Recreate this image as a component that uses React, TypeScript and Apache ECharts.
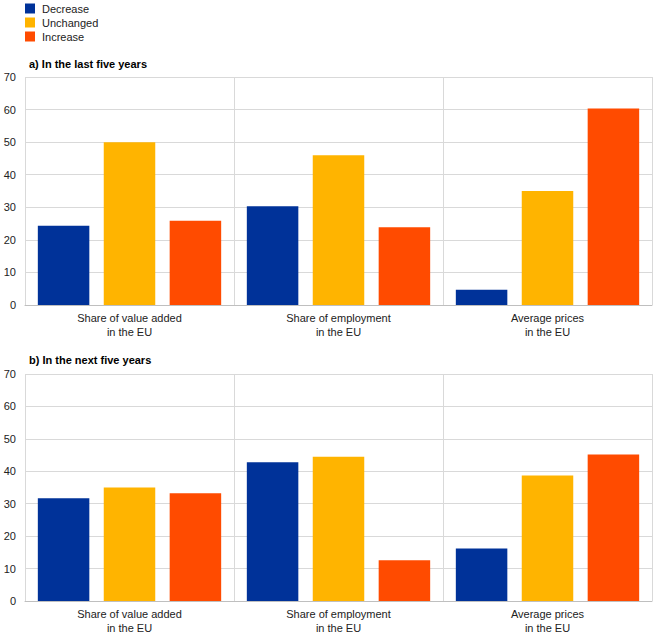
import React, { useEffect, useRef } from "react";
import * as echarts from "echarts";

const categories = ["Share of value added\nin the EU", "Share of employment\nin the EU", "Average prices\nin the EU"];
const seriesNames = ["Decrease", "Unchanged", "Increase"];
const colors = ["#003299", "#FFB400", "#FF4B00"];
const panelTitles = ["a) In the last five years", "b) In the next five years"];

const lastDecrease = [24.3, 30.3, 4.7];
const lastUnchanged = [50.0, 46.0, 35.0];
const lastIncrease = [25.9, 23.9, 60.3];

const nextDecrease = [31.7, 42.8, 16.2];
const nextUnchanged = [35.0, 44.5, 38.7];
const nextIncrease = [33.2, 12.6, 45.2];

const yTicks = { min: 0, max: 70, interval: 10 };

const FONT = "'Liberation Sans', Arial, sans-serif";

export default function App() {
  const ref = useRef<HTMLDivElement>(null);
  useEffect(() => {
    if (!ref.current) return;
    const chart = echarts.init(ref.current, null, { renderer: "svg" });
    const panels = [
      [lastDecrease, lastUnchanged, lastIncrease],
      [nextDecrease, nextUnchanged, nextIncrease],
    ];
    const grids = [
      { left: 25, top: 77, width: 627, height: 228 },
      { left: 25, top: 374, width: 627, height: 227 },
    ];
    const xAxes = grids.map((_, i) => ({
      type: "category",
      gridIndex: i,
      data: categories,
      axisTick: { show: false },
      axisLine: { lineStyle: { color: "#bfbfbf", width: 1 } },
      splitLine: { show: true, lineStyle: { color: "#d9d9d9", width: 1 } },
      axisLabel: { color: "#222", fontSize: 11, fontFamily: FONT, margin: 6, lineHeight: 14 },
    }));
    const yAxes = grids.map((_, i) => ({
      type: "value",
      gridIndex: i,
      min: yTicks.min,
      max: yTicks.max,
      interval: yTicks.interval,
      axisLine: { show: false },
      axisTick: { show: false },
      splitLine: { lineStyle: { color: "#d9d9d9", width: 1 } },
      axisLabel: { color: "#222", fontSize: 11, fontFamily: FONT, margin: 9 },
    }));
    const series: any[] = [];
    panels.forEach((vals, pi) => {
      vals.forEach((data, si) => {
        series.push({
          type: "bar",
          name: seriesNames[si],
          xAxisIndex: pi,
          yAxisIndex: pi,
          data,
          barWidth: 51.5,
          barGap: "28%",
          itemStyle: { color: colors[si] },
        });
      });
    });
    chart.setOption({
      animation: false,
      backgroundColor: "#ffffff",
      title: panelTitles.map((t, i) => ({
        text: t,
        left: 24,
        top: i === 0 ? 53 : 349,
        textStyle: { fontSize: 11, fontWeight: "bold", color: "#000", fontFamily: FONT },
      })),
      legend: {
        data: seriesNames,
        orient: "vertical",
        left: 25,
        top: 3,
        padding: 0,
        itemWidth: 10,
        itemHeight: 10,
        itemGap: 3,
        icon: "rect",
        textStyle: { fontSize: 11, color: "#222", fontFamily: FONT, padding: [0, 0, 0, 2] },
      },
      grid: grids,
      xAxis: xAxes,
      yAxis: yAxes,
      series,
    });
    return () => chart.dispose();
  }, []);
  return (
    <div
      ref={ref}
      style={{ position: "absolute", left: 0, top: 0, width: 660, height: 637 }}
    />
  );
}
